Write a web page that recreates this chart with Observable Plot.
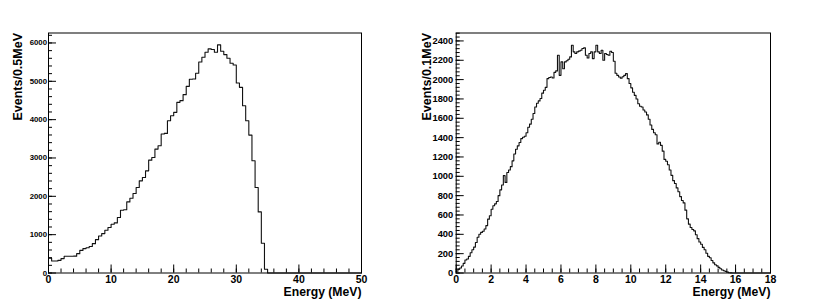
<!DOCTYPE html>
<html><head><meta charset="utf-8">
<script src="https://cdn.jsdelivr.net/npm/d3@7"></script>
<script src="https://cdn.jsdelivr.net/npm/@observablehq/plot@0.6"></script>
<style>
html,body{margin:0;padding:0;background:#fff;}
#wrap{display:flex;width:817px;height:306px;overflow:hidden;}
svg text{font-weight:bold;}
</style></head><body><div id="wrap"></div>
<script>
// Left histogram: Events per 0.5 MeV, bins from 0 to 35 MeV
const leftBinWidth = 0.5;
const leftValues = [383, 314, 314, 330, 375, 435, 435, 435, 440, 505,
  590, 636, 660, 690, 766, 870, 967, 1028, 1115, 1185,
  1272, 1307, 1446, 1638, 1650, 1855, 1951, 2073, 2230, 2404,
  2491, 2665, 2944, 3014, 3232, 3319, 3624, 3641, 3972, 4103,
  4190, 4451, 4495, 4652, 4869, 5052, 5061, 5209, 5505, 5627,
  5758, 5845, 5828, 5758, 5949, 5784, 5697, 5601, 5470, 5427,
  4957, 4843, 4364, 3972, 3597, 2927, 2230, 1594, 776, 96];

// Right histogram: Events per 0.1 MeV, bins from 0 to 15.8 MeV
const rightBinWidth = 0.1;
const rightValues = [18, 40, 52, 72, 100, 135, 145, 172, 210, 240,
  268, 315, 370, 400, 420, 432, 455, 490, 557, 592,
  660, 695, 715, 740, 800, 860, 910, 1007, 937, 1040,
  1065, 1100, 1160, 1230, 1280, 1315, 1350, 1390, 1404, 1415,
  1450, 1508, 1540, 1590, 1650, 1716, 1755, 1780, 1805, 1860,
  1890, 1920, 2010, 2022, 2027, 2017, 2075, 2090, 2252, 2044,
  2183, 2113, 2183, 2195, 2210, 2235, 2356, 2287, 2270, 2287,
  2295, 2304, 2321, 2328, 2252, 2224, 2270, 2287, 2217, 2287,
  2356, 2287, 2270, 2304, 2200, 2270, 2260, 2252, 2294, 2280,
  2190, 2065, 2044, 2027, 2015, 2030, 2044, 2062, 2010, 1960,
  1915, 1870, 1837, 1800, 1750, 1725, 1716, 1685, 1665, 1635,
  1590, 1530, 1485, 1450, 1430, 1335, 1352, 1320, 1260, 1175,
  1155, 1120, 1065, 1010, 955, 925, 880, 840, 790, 750,
  725, 650, 560, 505, 470, 450, 436, 395, 355, 320,
  297, 265, 240, 205, 172, 158, 130, 105, 85, 74,
  58, 44, 31, 23, 15, 9, 3, 1];

const leftXDomain = [0, 50];
const leftYDomain = [0, 6260];
const leftXMajor = [0, 10, 20, 30, 40, 50];
const leftXMinor = d3.range(0, 50.01, 2);
const leftYMajor = [0, 1000, 2000, 3000, 4000, 5000, 6000];
const leftYMinor = d3.range(0, 6260, 200);
const leftYLabel = "Events/0.5MeV";

const rightXDomain = [0, 18];
const rightYDomain = [0, 2482];
const rightXMajor = [0, 2, 4, 6, 8, 10, 12, 14, 16, 18];
const rightXMinor = d3.range(0, 18.01, 0.5);
const rightYMajor = d3.range(0, 2401, 200);
const rightYMinor = d3.range(0, 2482, 40);
const rightYLabel = "Events/0.1MeV";

const xLabel = "Energy (MeV)";

function stepPoints(values, w, xEnd) {
  const pts = values.map((v, i) => ({x: i * w, y: v}));
  pts.push({x: values.length * w, y: 0});
  pts.push({x: xEnd, y: 0});
  return pts;
}

function panel(o) {
  return Plot.plot({
    width: o.width, height: 306,
    marginLeft: o.marginLeft, marginRight: o.marginRight,
    marginTop: 32.5, marginBottom: 33.5,
    x: {domain: o.xDomain, label: null},
    y: {domain: o.yDomain, label: null},
    style: {fontFamily: "'Liberation Sans', Arial, sans-serif", color: "#000", background: "#fff", overflow: "visible"},
    marks: [
      Plot.line(stepPoints(o.values, o.w, o.xDomain[1]), {x: "x", y: "y", curve: "step-after", stroke: "#111", strokeWidth: 1.1}),
      Plot.axisX({ticks: o.xMinor, tickSize: -4, tickFormat: () => "", label: null}),
      Plot.axisX({ticks: o.xMajor, tickSize: -8, tickPadding: 11, fontSize: 10.5, label: null}),
      Plot.axisY({ticks: o.yMinor, tickSize: -4, tickFormat: () => "", label: null}),
      Plot.axisY({ticks: o.yMajor, tickSize: -8, tickPadding: o.yPad, fontSize: o.yFont, label: null, tickFormat: d => String(d)}),
      Plot.frame({stroke: "#000", strokeWidth: 1}),
      Plot.text([xLabel], {frameAnchor: "bottom-right", text: d => d, dy: 14.5, textAnchor: "end", fontSize: 12.2, lineAnchor: "top"}),
      Plot.text([o.yLabel], {frameAnchor: "top-left", text: d => d, dx: o.yTitleDx, rotate: -90, textAnchor: "end", fontSize: 12.5})
    ]
  });
}

const wrap = document.getElementById("wrap");
wrap.appendChild(panel({
  width: 408, marginLeft: 48, marginRight: 47,
  values: leftValues, w: leftBinWidth,
  xDomain: leftXDomain, yDomain: leftYDomain,
  xMajor: leftXMajor, xMinor: leftXMinor, yMajor: leftYMajor, yMinor: leftYMinor,
  yLabel: leftYLabel, yFont: 7.8, yPad: 9.5, yTitleDx: -35
}));
wrap.appendChild(panel({
  width: 409, marginLeft: 47.7, marginRight: 47,
  values: rightValues, w: rightBinWidth,
  xDomain: rightXDomain, yDomain: rightYDomain,
  xMajor: rightXMajor, xMinor: rightXMinor, yMajor: rightYMajor, yMinor: rightYMinor,
  yLabel: rightYLabel, yFont: 9.3, yPad: 11, yTitleDx: -34
}));
</script>
</body></html>
